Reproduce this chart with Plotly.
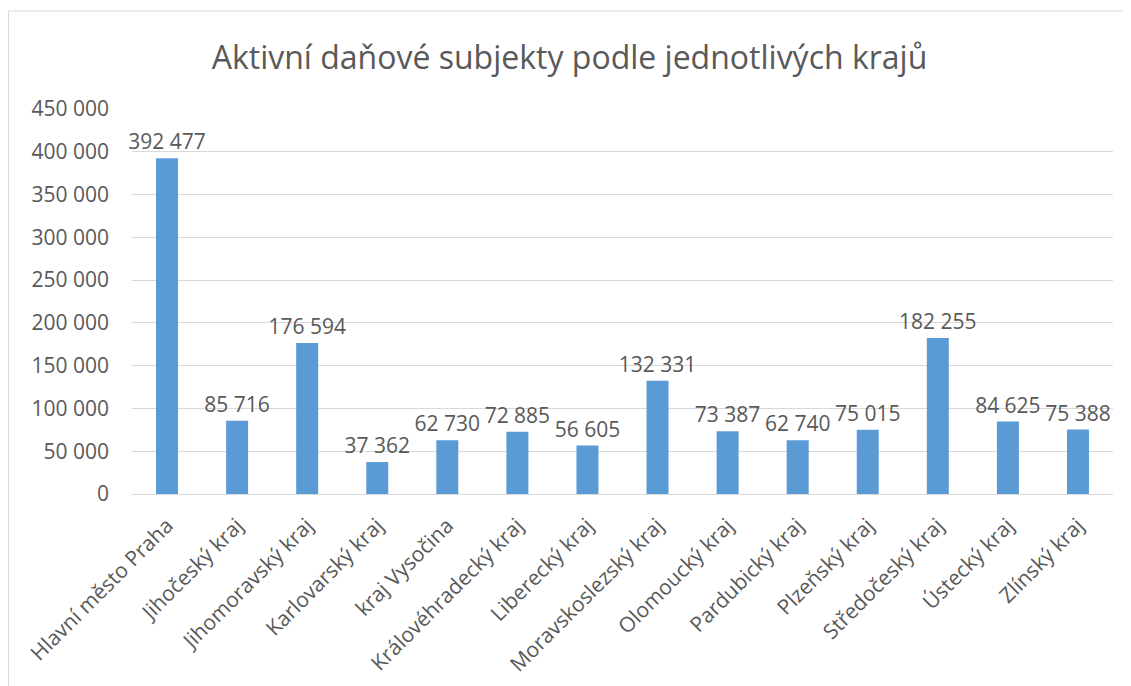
import plotly.graph_objects as go

categories = ["Hlavní město Praha", "Jihočeský kraj", "Jihomoravský kraj", "Karlovarský kraj",
              "kraj Vysočina", "Královéhradecký kraj", "Liberecký kraj", "Moravskoslezský kraj",
              "Olomoucký kraj", "Pardubický kraj", "Plzeňský kraj", "Středočeský kraj",
              "Ústecký kraj", "Zlínský kraj"]
values = [392477, 85716, 176594, 37362, 62730, 72885, 56605, 132331,
          73387, 62740, 75015, 182255, 84625, 75388]
y_ticks = [0, 50000, 100000, 150000, 200000, 250000, 300000, 350000, 400000, 450000]

OFF = 8  # page body margin
W, H = 1131 - OFF, 686 - OFF
L, R, T, B = 132 - OFF, 18, 109 - OFF, 192
pw, ph = W - L - R, H - T - B
txt = "#595959"
grid = "#d9d9d9"
font = "Open Sans"

fig = go.Figure(go.Bar(
    x=categories, y=values,
    marker=dict(color="#5b9bd5", line=dict(width=0)),
    texttemplate="%{y:,d}", textposition="outside", cliponaxis=False,
    constraintext="none",
    textfont=dict(family=font, size=21, color=txt),
))

def px_x(p):
    return (p - OFF - L) / pw

def px_y(p):
    return (H - B - (p - OFF)) / ph

fig.update_layout(
    width=W, height=H,
    margin=dict(l=L, r=R, t=T, b=B, autoexpand=False),
    paper_bgcolor="white", plot_bgcolor="white",
    separators=", ",
    bargap=0.686,
    showlegend=False,
    title=dict(text="Aktivní daňové subjekty podle jednotlivých krajů",
               x=0.5, xanchor="center", y=1 - (58 - OFF) / H, yanchor="middle",
               font=dict(family=font, size=32, color=txt)),
    font=dict(family=font, color=txt),
    shapes=[
        dict(type="line", xref="paper", yref="paper", x0=px_x(8.5), x1=px_x(8.5),
             y0=px_y(11), y1=px_y(700), line=dict(color=grid, width=1)),
        dict(type="line", xref="paper", yref="paper", x0=px_x(8), x1=px_x(1140),
             y0=px_y(11), y1=px_y(11), line=dict(color=grid, width=1)),
    ],
)
fig.update_xaxes(tickangle=-45, tickfont=dict(family=font, size=21, color=txt),
                 showline=True, linecolor=grid, linewidth=1, ticks="",
                 ticklabelstandoff=10)
fig.update_yaxes(range=[0, 450000], tickvals=y_ticks, tickformat=",d",
                 tickfont=dict(family=font, size=21, color=txt),
                 showgrid=True, gridcolor=grid, gridwidth=1,
                 zeroline=False, showline=False, ticks="", ticklabelstandoff=22)

fig.write_html("out.html")
